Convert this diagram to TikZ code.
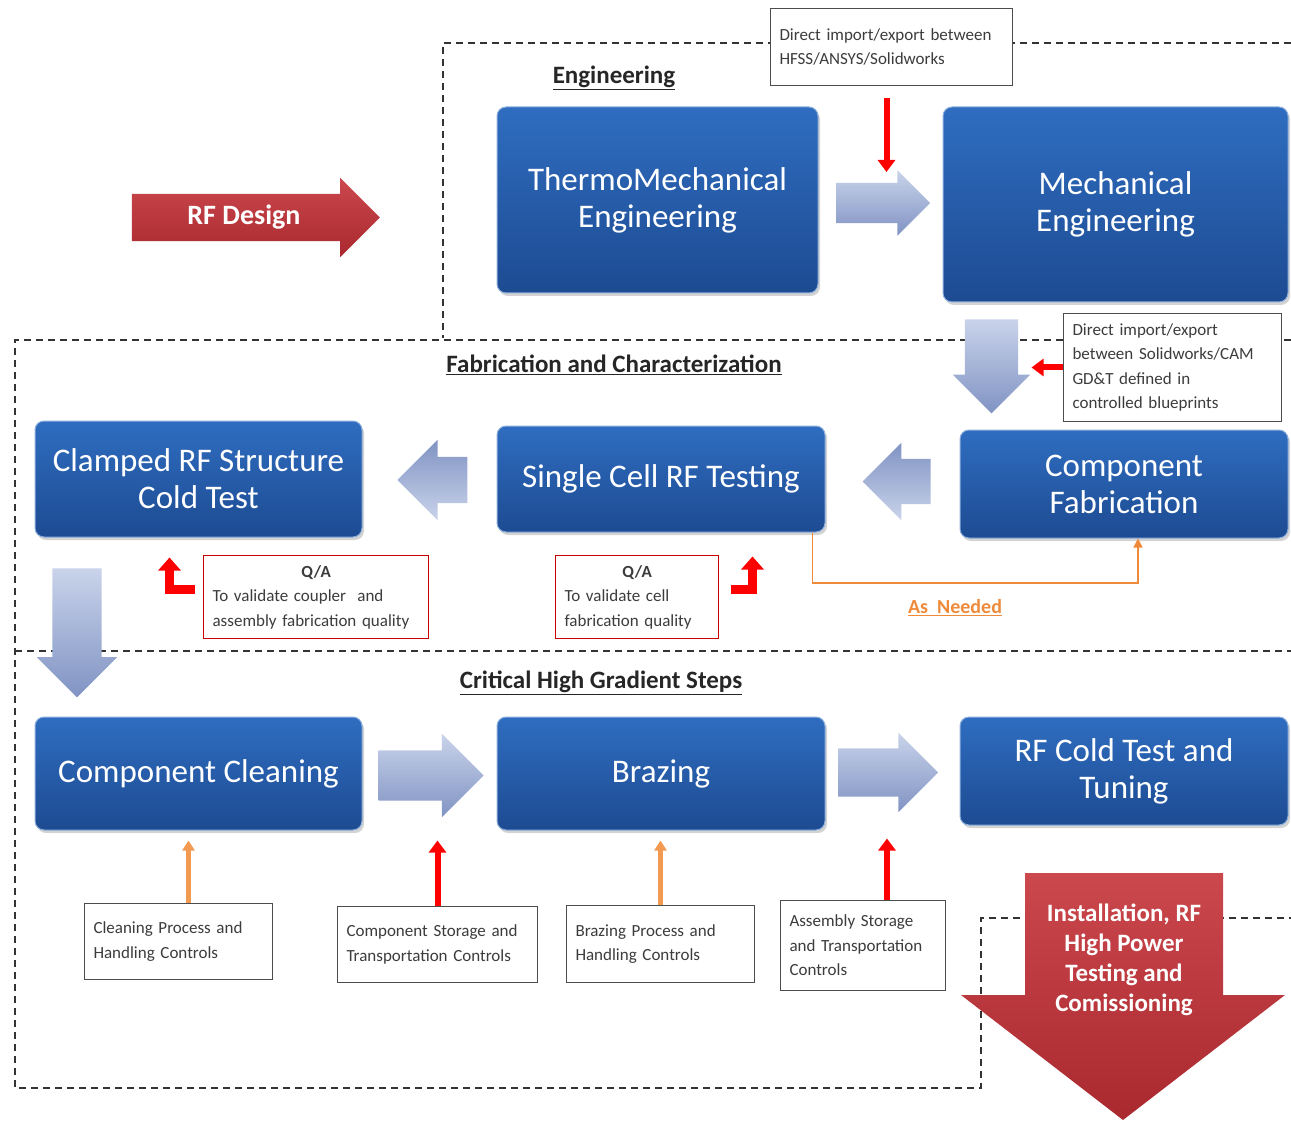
\documentclass[tikz,border=0pt]{standalone}
\usepackage{fontspec}
\setmainfont{Carlito}
\usetikzlibrary{positioning,arrows.meta,shapes.arrows,shadows}
\definecolor{boxtop}{HTML}{2F6DC0}
\definecolor{boxbot}{HTML}{1D4B92}
\definecolor{artop}{HTML}{C9D3EA}
\definecolor{arbot}{HTML}{8093C3}
\definecolor{rftop}{HTML}{CB484D}
\definecolor{rfbot}{HTML}{A9292E}
\definecolor{txtgray}{HTML}{3C3C3C}
\definecolor{qaorange}{HTML}{F39A52}
\definecolor{asorange}{HTML}{EE8A3A}

\begin{document}
\begin{tikzpicture}[x=1pt,y=-1pt,
		g/.style={rectangle,rounded corners=9pt,draw=boxtop!55!white,line width=1pt,top color=boxtop,bottom color=boxbot,text=white,align=center,inner sep=0pt,font=\fontsize{33}{37}\selectfont,drop shadow={shadow xshift=2pt,shadow yshift=-3pt,opacity=.35}},
		ba/.style={single arrow,draw=none,top color=artop,bottom color=arbot,inner sep=0pt},
		bal/.style={ba,top color=arbot,bottom color=artop},
		c/.style={rectangle,draw=black!70,fill=white,line width=1pt,align=left,text=txtgray,inner xsep=9pt,inner ysep=4pt,anchor=north west,font=\fontsize{17}{24.5}\selectfont},
		q/.style={c,draw=red!80!black,line width=1.2pt},
		h/.style={font=\fontsize{25}{28}\selectfont\bfseries,text=black!85},
		a/.style={draw=red,line width=6pt,-{Triangle[width=17pt,length=12pt]}},
		al/.style={draw=red,line width=9pt,-{Triangle[width=22pt,length=13pt]}},
		o/.style={draw=qaorange,line width=5pt,-{Triangle[width=12pt,length=10pt]}},
		dl/.style={draw=black!80,line width=1.5pt,dash pattern=on 7pt off 5pt}
		]
		\useasboundingbox (0,0) rectangle (1291,1123);
		
		% regions
		\draw[dl] (1291,43) -- (443,43) -- (443,338);
		\draw[dl] (1291,340) -- (15,340) -- (15,1088) -- (981,1088) -- (981,918) -- (1291,918);
		\draw[dl] (15,651) -- (1291,651);
		
		\node[h] (eng) at (614,78) {\underline{Engineering}};
		\node[h] (fab) at (614,365) {\underline{Fabrication and Characterization}};
		\node[h] (crit) at (601,683) {\underline{Critical High Gradient Steps}};
		
		\node[single arrow,top color=rftop,bottom color=rfbot,text=white,font=\fontsize{28}{32}\selectfont\bfseries,inner xsep=0pt,inner ysep=10.5pt,text height=20pt,text depth=6pt,single arrow head extend=16pt,minimum height=248pt] (rfd) at (244,217.5) {RF Design};
		
		\node[g,minimum width=321pt,minimum height=186pt] (tm) at (657.5,200) {ThermoMechanical\\Engineering};
		\node[g,minimum width=345pt,minimum height=195pt] (me) at (1115.5,204.5) {Mechanical\\Engineering};
		\node[g,minimum width=327pt,minimum height=116pt] (clam) at (198.5,479) {Clamped RF Structure\\Cold Test};
		\node[g,minimum width=328pt,minimum height=106pt] (sc) at (661,479) {Single Cell RF Testing};
		\node[g,minimum width=328pt,minimum height=108pt] (cf) at (1124,484) {Component\\Fabrication};
		\node[g,minimum width=327pt,minimum height=113pt] (cc) at (198.5,773.5) {Component Cleaning};
		\node[g,minimum width=328pt,minimum height=113pt] (br) at (661,773.5) {Brazing};
		\node[g,minimum width=328pt,minimum height=108pt] (rf) at (1124,771) {RF Cold Test and\\Tuning};
		
		\node[ba,minimum height=94pt,inner ysep=20pt,single arrow head extend=12.5pt] (ar1) at (873,203) {};
		\node[ba,rotate=-90,minimum height=94pt,inner ysep=26.5pt,single arrow head extend=12pt] (ar2) at (991.5,353) {};
		\node[bal,rotate=180,minimum height=68pt,inner ysep=22.5pt,single arrow head extend=16pt] (ar3) at (908,481.5) {};
		\node[bal,rotate=180,minimum height=70pt,inner ysep=23pt,single arrow head extend=17pt] (ar4) at (444,480) {};
		\node[ba,rotate=-90,minimum height=129pt,inner ysep=24.5pt,single arrow head extend=15.5pt] (ar5) at (77,620.5) {};
		\node[ba,minimum height=105pt,inner ysep=25pt,single arrow head extend=16.5pt] (ar6) at (418.5,775.5) {};
		\node[ba,minimum height=100pt,inner ysep=24pt,single arrow head extend=15.5pt] (ar7) at (876,772.5) {};
		
		\path[top color=rftop,bottom color=rfbot] (1025,873) -- (1223,873) -- (1223,995) -- (1285,995) -- (1123,1120) -- (961,995) -- (1025,995) -- cycle;
		\node[text=white,font=\fontsize{25}{30}\selectfont\bfseries,align=center] (inst) at (1124,960) {Installation, RF\\High Power\\Testing and\\Comissioning};
		
		\node[c,text width=224pt,minimum height=77pt] (dbox) at (770,8) {Direct import/export between\\HFSS/ANSYS/Solidworks};
		\node[c,text width=200pt,minimum height=108pt] (gbox) at (1063,313) {Direct import/export\\between Solidworks/CAM\\GD\&T defined in\\controlled blueprints};
		\node[q,text width=207pt,minimum height=83pt] (qa1) at (203,555) {\makebox[\linewidth]{\textbf{Q/A}}\\To validate coupler\ \ and\\assembly fabrication quality};
		\node[q,text width=145pt,minimum height=83pt] (qa2) at (555,555) {\makebox[\linewidth]{\textbf{Q/A}}\\To validate cell\\fabrication quality};
		
		\node[c,text width=170pt,minimum height=76pt] (clean) at (84,903) {Cleaning Process and\\Handling Controls};
		\node[c,text width=182pt,minimum height=76pt] (cst) at (337,906) {Component Storage and\\Transportation Controls};
		\node[c,text width=170pt,minimum height=77pt] (bpr) at (566,905) {Brazing Process and\\Handling Controls};
		\node[c,text width=147pt,minimum height=90pt] (ast) at (780,900) {Assembly Storage\\and Transportation\\Controls};
		
		\draw[a,shorten <=12pt,shorten >=31pt] ([xshift=-5pt]dbox.south) -- ([xshift=-5pt]dbox.south |- ar1.center);
		\draw[a,shorten >=40pt] (gbox.west) -- (gbox.west -| ar2.center);
		\draw[al,shorten >=20pt] ([xshift=-8pt,yshift=8pt]qa1.west) -| ([xshift=135pt]clam.south west);
		\draw[al,shorten >=24pt] ([xshift=12pt,yshift=8pt]qa2.east) -| ([xshift=-73pt]sc.south east);
		
		\coordinate (asn) at (955,583);
		\draw[draw=asorange,line width=1.5pt,-{Triangle[width=9pt,length=9pt]}] ([xshift=-13pt]sc.south east) |- (asn) -| ([xshift=14pt]cf.south);
		\node[text=asorange,font=\fontsize{20}{24}\selectfont\bfseries,below=13pt of asn] (asnl) {\underline{As\ \ Needed}};
		
		\draw[o,shorten >=10pt] ([xshift=10pt]clean.north) -- ([xshift=-10pt]cc.south);
		\draw[a,shorten >=10pt] (cst.north) -- (cst.north |- cc.south);
		\draw[o,shorten >=10pt] (bpr.north) -- (bpr.north |- br.south);
		\draw[a,shorten >=8pt] ([xshift=24pt]ast.north) -- ([xshift=24pt]ast.north |- br.south);
		
	\end{tikzpicture}
\end{document}
